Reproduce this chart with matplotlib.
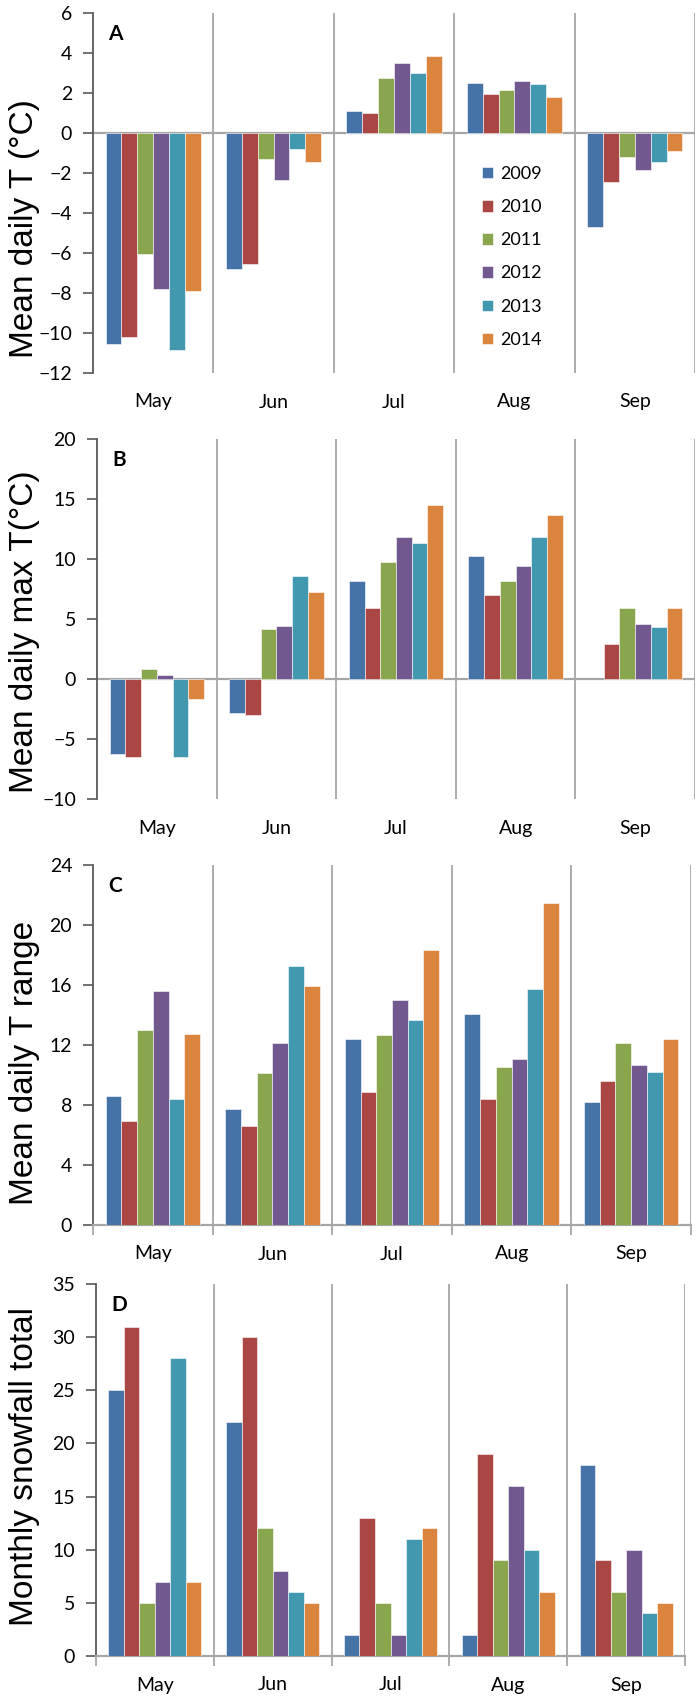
import numpy as np
import matplotlib
matplotlib.use("Agg")
import matplotlib.pyplot as plt
from matplotlib.patches import Patch

plt.rcParams["font.family"] = ["Lato", "DejaVu Sans"]

months = ["May", "Jun", "Jul", "Aug", "Sep"]
years = ["2009", "2010", "2011", "2012", "2013", "2014"]
colors = ["#4572A7", "#AA4643", "#89A54E", "#71588F", "#4198AF", "#DB843D"]

# rows = years, columns = months
mean_t = [
    [-10.55, -6.78, 1.10, 2.48, -4.68],
    [-10.18, -6.53, 0.98, 1.96, -2.43],
    [-6.03, -1.31, 2.74, 2.13, -1.20],
    [-7.80, -2.33, 3.52, 2.59, -1.83],
    [-10.86, -0.78, 3.00, 2.43, -1.45],
    [-7.90, -1.46, 3.87, 1.81, -0.90],
]
max_t = [
    [-6.27, -2.80, 8.15, 10.29, np.nan],
    [-6.54, -3.02, 5.90, 7.04, 2.91],
    [0.80, 4.13, 9.76, 8.15, 5.90],
    [0.36, 4.38, 11.81, 9.43, 4.55],
    [-6.54, 8.57, 11.31, 11.81, 4.30],
    [-1.64, 7.21, 14.47, 13.70, 5.90],
]
t_range = [
    [8.57, 7.75, 12.38, 14.08, 8.21],
    [6.91, 6.58, 8.90, 8.43, 9.59],
    [13.02, 10.14, 12.66, 10.54, 12.11],
    [15.59, 12.11, 14.97, 11.09, 10.67],
    [8.43, 17.29, 13.68, 15.74, 10.21],
    [12.73, 15.94, 18.33, 21.47, 12.38],
]
snowfall = [
    [25, 22, 2, 2, 18],
    [31, 30, 13, 19, 9],
    [5, 12, 5, 9, 6],
    [7, 8, 2, 16, 10],
    [28, 6, 11, 10, 4],
    [7, 5, 12, 6, 5],
]

W, H = 700, 1703
fig = plt.figure(figsize=(W / 100, H / 100), dpi=100)

# (data, ylabel, letter, yticks, box in pixels: left, top, right, bottom, ylabel centre)
panels = [
    (mean_t, "Mean daily T (°C)", "A", np.arange(-12, 7, 2), (93, 13, 695, 373), 0.40),
    (max_t, "Mean daily max T(°C)", "B", np.arange(-10, 21, 5), (97, 439, 695, 799), 0.465),
    (t_range, "Mean daily T range", "C", np.arange(0, 25, 4), (93, 865, 691, 1225), 0.45),
    (snowfall, "Monthly snowfall total", "D", np.arange(0, 36, 5), (96, 1284, 685, 1656), 0.51),
]

group = 0.79
bw = group / len(years)
x = np.arange(len(months)) + 0.5

for data, ylab, letter, yt, (l, t, r, b), ly in panels:
    ax = fig.add_axes([l / W, 1 - b / H, (r - l) / W, (b - t) / H])
    for i, yr in enumerate(years):
        ax.bar(x + (i - 2.5) * bw, data[i], width=bw, color=colors[i],
               edgecolor="white", linewidth=0.4, zorder=3)
    ax.set_xlim(0, 5)
    ax.set_ylim(yt[0], yt[-1])
    ax.set_yticks(yt)
    ax.tick_params(axis="y", direction="out", length=7, width=1.2,
                   color="#595959", pad=8, labelsize=14)
    for s in ["top", "right"]:
        ax.spines[s].set_visible(False)
    ax.spines["left"].set_color("#595959")
    ax.spines["left"].set_linewidth(1.3)

    # month separators
    for k in range(1, 6):
        ax.axvline(k, color="#A6A6A6", lw=1.3, zorder=1)

    if yt[0] < 0:
        ax.spines["bottom"].set_visible(False)
        ax.axhline(0, color="#A6A6A6", lw=1.6, zorder=2)
        ax.set_xticks([])
    else:
        ax.spines["bottom"].set_color("#A6A6A6")
        ax.spines["bottom"].set_linewidth(1.6)
        ax.set_xticks(range(6))
        ax.tick_params(axis="x", direction="out", length=7, width=1.3,
                       color="#A6A6A6", labelbottom=False)

    off = -29 / (b - t)
    for xi, m in zip(x, months):
        ax.text(xi, off, m, transform=ax.get_xaxis_transform(),
                ha="center", va="center", fontsize=14)

    ax.text(15 / (r - l), 1 - 21 / (b - t), letter, transform=ax.transAxes,
            ha="left", va="center", fontsize=15, fontweight="bold")

    ax.set_ylabel(ylab, fontsize=24, family=["Liberation Sans", "DejaVu Sans"])
    ax.yaxis.set_label_coords(-(l - 40) / (r - l), ly)

handles = [Patch(facecolor=c, edgecolor="white", linewidth=0.4) for c in colors]
fig.legend(handles, years, loc="upper left",
           bbox_to_anchor=(482 / W, 1 - 166 / H), frameon=False,
           fontsize=13, handlelength=0.6, handleheight=0.6,
           handletextpad=0.4, labelspacing=0.95, borderpad=0,
           borderaxespad=0)

fig.savefig("out.png", dpi=100)
